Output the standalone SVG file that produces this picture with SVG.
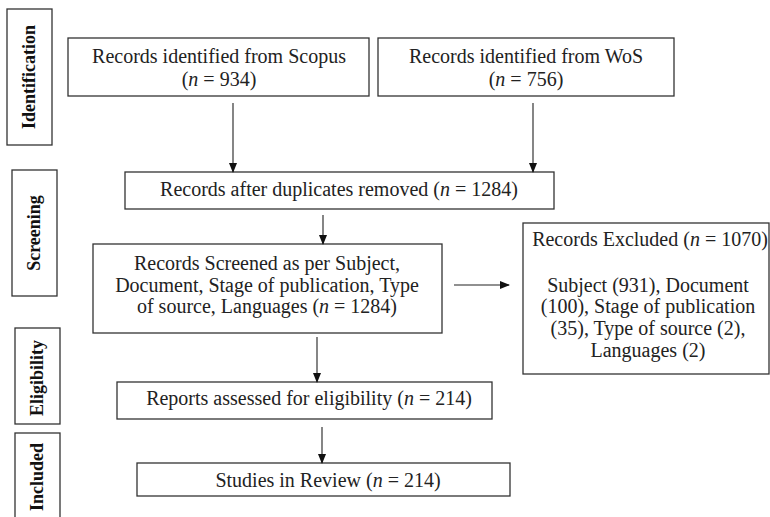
<svg xmlns="http://www.w3.org/2000/svg" width="770" height="517" viewBox="0 0 770 517">
<defs>
<marker id="ah" markerWidth="10" markerHeight="10" refX="9" refY="4" orient="auto" markerUnits="userSpaceOnUse">
<path d="M0,0 L10,4 L0,8 Z" fill="#111"/>
</marker>
<style>
.box{fill:#fff;stroke:#333;stroke-width:1.3}
.t{font-family:"Liberation Serif","Times New Roman",serif;font-size:20px;fill:#222;text-anchor:middle}
.lab{font-family:"Liberation Serif","Times New Roman",serif;font-size:18px;font-weight:bold;fill:#111;text-anchor:middle}
.c{stroke:#222;stroke-width:1.1;fill:none;marker-end:url(#ah)}
.i{font-style:italic}
</style>
</defs>
<rect width="770" height="517" fill="#fff"/>
<g id="label-identification">
<rect class="box" x="7" y="9" width="45" height="136"/>
<text class="lab" transform="translate(35,77) rotate(-90)">Identification</text>
</g>
<g id="label-screening">
<rect class="box" x="12" y="170" width="45" height="126"/>
<text class="lab" transform="translate(40,233) rotate(-90)">Screening</text>
</g>
<g id="label-eligibility">
<rect class="box" x="15" y="328" width="45" height="96"/>
<text class="lab" transform="translate(43,378) rotate(-90)">Eligibility</text>
</g>
<g id="label-included">
<rect class="box" x="15" y="433" width="45" height="90"/>
<text class="lab" transform="translate(43,477) rotate(-90)">Included</text>
</g>
<g id="scopus">
<rect class="box" x="68" y="38" width="301" height="58"/>
<text class="t" x="219" y="63">Records identified from Scopus</text>
<text class="t" x="219" y="86">(<tspan class="i">n</tspan> = 934)</text>
</g>
<g id="wos">
<rect class="box" x="378" y="38" width="296" height="58"/>
<text class="t" x="526" y="63">Records identified from WoS</text>
<text class="t" x="526" y="86">(<tspan class="i">n</tspan> = 756)</text>
</g>
<g id="duplicates">
<rect class="box" x="125" y="172" width="429" height="37"/>
<text class="t" x="339" y="196">Records after duplicates removed (<tspan class="i">n</tspan> = 1284)</text>
</g>
<g id="screened">
<rect class="box" x="93" y="244" width="349" height="89"/>
<text class="t" x="267" y="270">Records Screened as per Subject,</text>
<text class="t" x="267" y="292">Document, Stage of publication, Type</text>
<text class="t" x="267" y="313">of source, Languages (<tspan class="i">n</tspan> = 1284)</text>
</g>
<g id="excluded">
<rect class="box" x="523" y="223" width="246" height="151"/>
<text class="t" x="650" y="246">Records Excluded (<tspan class="i">n</tspan> = 1070)</text>
<text class="t" x="648" y="292">Subject (931),  Document</text>
<text class="t" x="648" y="313">(100), Stage of publication</text>
<text class="t" x="648" y="335">(35), Type of source (2),</text>
<text class="t" x="648" y="357">Languages (2)</text>
</g>
<g id="reports">
<rect class="box" x="117" y="382" width="375" height="37"/>
<text class="t" x="309" y="405">Reports assessed for eligibility (<tspan class="i">n</tspan> = 214)</text>
</g>
<g id="studies">
<rect class="box" x="137" y="463" width="373" height="33"/>
<text class="t" x="328" y="487">Studies in Review (<tspan class="i">n</tspan> = 214)</text>
</g>
<g id="connectors">
<line class="c" x1="233" y1="103" x2="233" y2="172"/>
<line class="c" x1="533" y1="103" x2="533" y2="172"/>
<line class="c" x1="323" y1="215" x2="323" y2="244"/>
<line class="c" x1="454" y1="285" x2="509" y2="285"/>
<line class="c" x1="317" y1="337" x2="317" y2="382"/>
<line class="c" x1="322" y1="427" x2="322" y2="463"/>
</g>
</svg>
